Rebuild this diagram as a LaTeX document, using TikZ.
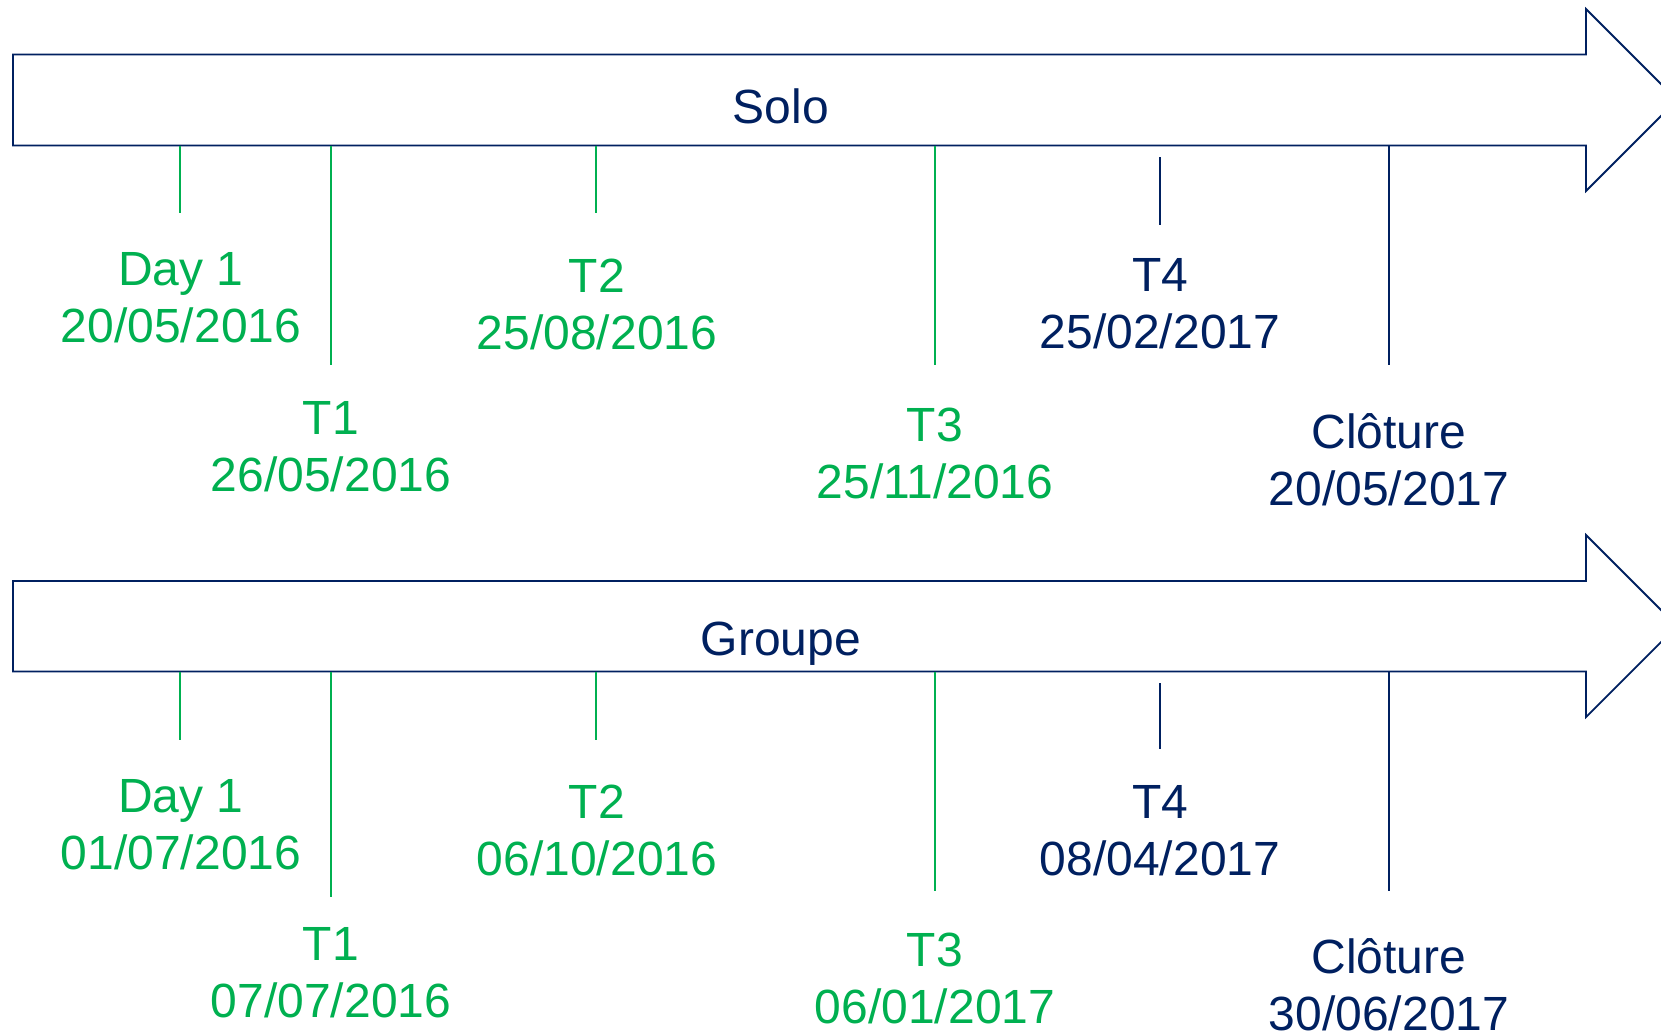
\documentclass[tikz,border=0pt]{standalone}
\usepackage{fontspec}
\setmainfont{Liberation Sans}
\definecolor{navy}{HTML}{002060}
\definecolor{vert}{HTML}{00B050}
\tikzset{
  fleche/.style={draw=navy,line width=0.9pt},
  trait/.style={line width=0.9pt},
  jalon/.style={anchor=base,align=center,inner sep=0pt,
    font=\fontsize{24}{28.5}\selectfont},
}
\begin{document}
\begin{tikzpicture}[x=0.5pt,y=-0.5pt]
	\useasboundingbox (0,0) rectangle (1661,1034);
	% Solo
	\draw[fleche] (13,54.5) -- (1586,54.5) -- (1586,9) -- (1677,100)
		-- (1586,191) -- (1586,145.5) -- (13,145.5) -- cycle;
	\node[jalon,navy] (solo) at (781,123) {Solo};
	%
	\coordinate (sd1) at (180,145.5);  \coordinate (sd1e) at (180,213);
	\coordinate (st1) at (331,145.5);  \coordinate (st1e) at (331,365);
	\coordinate (st2) at (596,145.5);  \coordinate (st2e) at (596,213);
	\coordinate (st3) at (935,145.5);  \coordinate (st3e) at (935,365);
	\coordinate (st4) at (1160,157);   \coordinate (st4e) at (1160,225);
	\coordinate (scl) at (1389,145.5); \coordinate (scle) at (1389,365);
	%
	\draw[trait,vert] (sd1) -- (sd1e);
	\draw[trait,vert] (st1) -- (st1e);
	\draw[trait,vert] (st2) -- (st2e);
	\draw[trait,vert] (st3) -- (st3e);
	\draw[trait,navy] (st4) -- (st4e);
	\draw[trait,navy] (scl) -- (scle);
	%
	\node[jalon,vert] (sd1l) at (181,342)  {Day 1\\20/05/2016};
	\node[jalon,vert] (st1l) at (331,491)  {T1\\26/05/2016};
	\node[jalon,vert] (st2l) at (597,349)  {T2\\25/08/2016};
	\node[jalon,vert] (st3l) at (935,498)  {T3\\25/11/2016};
	\node[jalon,navy] (st4l) at (1160,348) {T4\\25/02/2017};
	\node[jalon,navy] (scll) at (1389,505) {Clôture\\20/05/2017};
	% Groupe
	\draw[fleche] (13,581) -- (1586,581) -- (1586,535) -- (1677,626)
		-- (1586,717) -- (1586,671.5) -- (13,671.5) -- cycle;
	\node[jalon,navy] (groupe) at (781,655) {Groupe};
	%
	\coordinate (gd1) at (180,671.5);  \coordinate (gd1e) at (180,740);
	\coordinate (gt1) at (331,671.5);  \coordinate (gt1e) at (331,897);
	\coordinate (gt2) at (596,671.5);  \coordinate (gt2e) at (596,740);
	\coordinate (gt3) at (935,671.5);  \coordinate (gt3e) at (935,891);
	\coordinate (gt4) at (1160,683);   \coordinate (gt4e) at (1160,749);
	\coordinate (gcl) at (1389,671.5); \coordinate (gcle) at (1389,891);
	%
	\draw[trait,vert] (gd1) -- (gd1e);
	\draw[trait,vert] (gt1) -- (gt1e);
	\draw[trait,vert] (gt2) -- (gt2e);
	\draw[trait,vert] (gt3) -- (gt3e);
	\draw[trait,navy] (gt4) -- (gt4e);
	\draw[trait,navy] (gcl) -- (gcle);
	%
	\node[jalon,vert] (gd1l) at (181,869)  {Day 1\\01/07/2016};
	\node[jalon,vert] (gt1l) at (331,1017) {T1\\07/07/2016};
	\node[jalon,vert] (gt2l) at (597,875)  {T2\\06/10/2016};
	\node[jalon,vert] (gt3l) at (935,1023) {T3\\06/01/2017};
	\node[jalon,navy] (gt4l) at (1160,875) {T4\\08/04/2017};
	\node[jalon,navy] (gcll) at (1389,1030) {Clôture\\30/06/2017};
\end{tikzpicture}
\end{document}
